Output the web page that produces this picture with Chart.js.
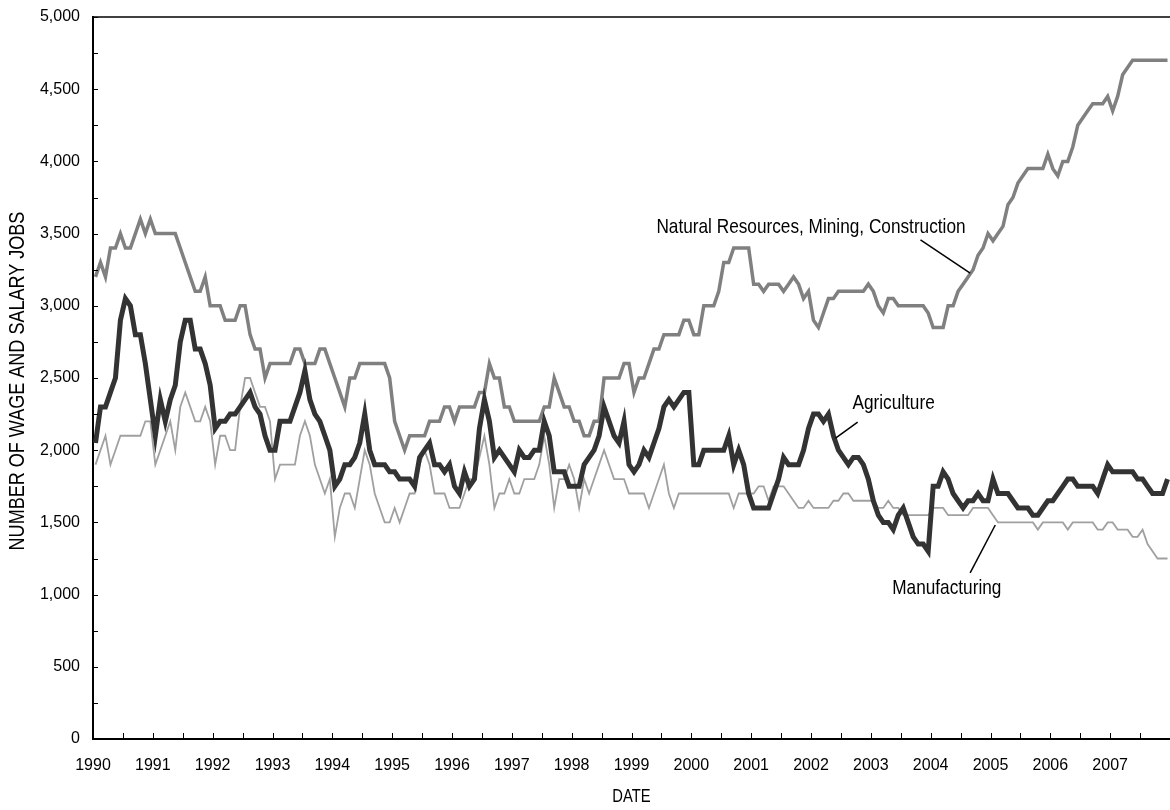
<!DOCTYPE html>
<html>
<head>
<meta charset="utf-8">
<title>Number of wage and salary jobs</title>
<script src="https://cdn.jsdelivr.net/npm/chart.js@4.4.1/dist/chart.umd.min.js"></script>
<style>
    html, body { margin: 0; padding: 0; background: #fff; }
</style>
</head>
<body>
<canvas id="myChart" width="1170" height="810"></canvas>
<script>
// canvas
const canvas = document.getElementById('myChart')
const ctx = canvas.getContext('2d')

// x axis: one label per year
const years = [1990, 1991, 1992, 1993, 1994, 1995, 1996, 1997, 1998,
    1999, 2000, 2001, 2002, 2003, 2004, 2005, 2006, 2007]

// y axis tick labels (every 500)
const yTickLabels = ['0', '500', '1,000', '1,500', '2,000', '2,500',
    '3,000', '3,500', '4,000', '4,500', '5,000']

// monthly values, one row per year
const naturalResources = [
    3200, 3300, 3200, 3400, 3400, 3500, 3400, 3400, 3500, 3600, 3500, 3600,
    3500, 3500, 3500, 3500, 3500, 3400, 3300, 3200, 3100, 3100, 3200, 3000,
    3000, 3000, 2900, 2900, 2900, 3000, 3000, 2800, 2700, 2700, 2500, 2600,
    2600, 2600, 2600, 2600, 2700, 2700, 2600, 2600, 2600, 2700, 2700, 2600,
    2500, 2400, 2300, 2500, 2500, 2600, 2600, 2600, 2600, 2600, 2600, 2500,
    2200, 2100, 2000, 2100, 2100, 2100, 2100, 2200, 2200, 2200, 2300, 2300,
    2200, 2300, 2300, 2300, 2300, 2400, 2400, 2600, 2500, 2500, 2300, 2300,
    2200, 2200, 2200, 2200, 2200, 2200, 2300, 2300, 2500, 2400, 2300, 2300,
    2200, 2200, 2100, 2100, 2200, 2200, 2500, 2500, 2500, 2500, 2600, 2600,
    2400, 2500, 2500, 2600, 2700, 2700, 2800, 2800, 2800, 2800, 2900, 2900,
    2800, 2800, 3000, 3000, 3000, 3100, 3300, 3300, 3400, 3400, 3400, 3400,
    3150, 3150, 3100, 3150, 3150, 3150, 3100, 3150, 3200, 3150, 3050, 3100,
    2900, 2850, 2950, 3050, 3050, 3100, 3100, 3100, 3100, 3100, 3100, 3150,
    3100, 3000, 2950, 3050, 3050, 3000, 3000, 3000, 3000, 3000, 3000, 2950,
    2850, 2850, 2850, 3000, 3000, 3100, 3150, 3200, 3250, 3350, 3400, 3500,
    3450, 3500, 3550, 3700, 3750, 3850, 3900, 3950, 3950, 3950, 3950, 4050,
    3950, 3900, 4000, 4000, 4100, 4250, 4300, 4350, 4400, 4400, 4400, 4450,
    4350, 4450, 4600, 4650, 4700, 4700, 4700, 4700, 4700, 4700, 4700, 4700
]

const agriculture = [
    2050, 2300, 2300, 2400, 2500, 2900, 3050, 3000, 2800, 2800, 2600, 2350,
    2100, 2350, 2200, 2350, 2450, 2750, 2900, 2900, 2700, 2700, 2600, 2450,
    2150, 2200, 2200, 2250, 2250, 2300, 2350, 2400, 2300, 2250, 2100, 2000,
    2000, 2200, 2200, 2200, 2300, 2400, 2550, 2350, 2250, 2200, 2100, 2000,
    1750, 1800, 1900, 1900, 1950, 2050, 2250, 2000, 1900, 1900, 1900, 1850,
    1850, 1800, 1800, 1800, 1750, 1950, 2000, 2050, 1900, 1900, 1850, 1900,
    1750, 1700, 1850, 1750, 1800, 2150, 2350, 2200, 1950, 2000, 1950, 1900,
    1850, 2000, 1950, 1950, 2000, 2000, 2200, 2100, 1850, 1850, 1850, 1750,
    1750, 1750, 1900, 1950, 2000, 2100, 2300, 2200, 2100, 2050, 2200, 1900,
    1850, 1900, 2000, 1950, 2050, 2150, 2300, 2350, 2300, 2350, 2400, 2400,
    1900, 1900, 2000, 2000, 2000, 2000, 2000, 2100, 1900, 2000, 1900, 1700,
    1600, 1600, 1600, 1600, 1700, 1800, 1950, 1900, 1900, 1900, 2000, 2150,
    2250, 2250, 2200, 2250, 2100, 2000, 1950, 1900, 1950, 1950, 1900, 1800,
    1650, 1550, 1500, 1500, 1450, 1550, 1600, 1500, 1400, 1350, 1350, 1300,
    1750, 1750, 1850, 1800, 1700, 1650, 1600, 1650, 1650, 1700, 1650, 1650,
    1800, 1700, 1700, 1700, 1650, 1600, 1600, 1600, 1550, 1550, 1600, 1650,
    1650, 1700, 1750, 1800, 1800, 1750, 1750, 1750, 1750, 1700, 1800, 1900,
    1850, 1850, 1850, 1850, 1850, 1800, 1800, 1750, 1700, 1700, 1700, 1800
]

const manufacturing = [
    1900, 2000, 2100, 1900, 2000, 2100, 2100, 2100, 2100, 2100, 2200, 2200,
    1900, 2000, 2100, 2200, 2000, 2300, 2400, 2300, 2200, 2200, 2300, 2200,
    1900, 2100, 2100, 2000, 2000, 2300, 2500, 2500, 2400, 2300, 2300, 2200,
    1800, 1900, 1900, 1900, 1900, 2100, 2200, 2100, 1900, 1800, 1700, 1800,
    1400, 1600, 1700, 1700, 1600, 1800, 2000, 1900, 1700, 1600, 1500, 1500,
    1600, 1500, 1600, 1700, 1700, 1900, 2000, 1900, 1700, 1700, 1700, 1600,
    1600, 1600, 1700, 1800, 1800, 1950, 2100, 1900, 1600, 1700, 1700, 1800,
    1700, 1700, 1800, 1800, 1800, 1900, 2100, 1900, 1600, 1800, 1800, 1900,
    1800, 1600, 1800, 1700, 1800, 1900, 2000, 1900, 1800, 1800, 1800, 1700,
    1700, 1700, 1700, 1600, 1700, 1800, 1900, 1700, 1600, 1700, 1700, 1700,
    1700, 1700, 1700, 1700, 1700, 1700, 1700, 1700, 1600, 1700, 1700, 1700,
    1700, 1750, 1750, 1650, 1750, 1750, 1750, 1700, 1650, 1600, 1600, 1650,
    1600, 1600, 1600, 1600, 1650, 1650, 1700, 1700, 1650, 1650, 1650, 1650,
    1650, 1600, 1600, 1650, 1600, 1600, 1550, 1550, 1550, 1550, 1550, 1550,
    1600, 1600, 1600, 1550, 1550, 1550, 1550, 1550, 1600, 1600, 1600, 1600,
    1550, 1500, 1500, 1500, 1500, 1500, 1500, 1500, 1500, 1450, 1500, 1500,
    1500, 1500, 1500, 1450, 1500, 1500, 1500, 1500, 1500, 1450, 1450, 1500,
    1500, 1450, 1450, 1450, 1400, 1400, 1450, 1350, 1300, 1250, 1250, 1250
]

// callout labels with leader lines, in data units (year, jobs)
const callouts = [
    { text: 'Natural Resources, Mining, Construction', at: [2002.0, 3545], from: [2003.83, 3456], to: [2004.66, 3227] },
    { text: 'Agriculture', at: [2003.38, 2327], from: [2002.78, 2195], to: [2002.41, 2084] },
    { text: 'Manufacturing', at: [2004.27, 1046], from: [2005.08, 1482], to: [2004.66, 1150] }
]

const fontFamily = "'Liberation Sans', Arial, sans-serif"

// monthly value -> point in the middle of its month
function toPoints(values) {
    let points = []
    for (let i = 0; i < values.length; i++) {
        points.push({ x: years[0] + (i + 0.5) / 12, y: values[i] })
    }
    return points
}

// narrow-looking text: squeeze the font along the text direction
function narrowText(c, text, x, y, size, angle) {
    c.save()
    c.translate(x, y)
    c.rotate(angle)
    c.scale(0.82, 1)
    c.font = size + 'px ' + fontFamily
    c.textAlign = 'center'
    c.textBaseline = 'middle'
    c.fillText(text, 0, 0)
    c.restore()
}

// ticks pointing into the plot, frame line on top, titles, callouts
const framePlugin = {
    id: 'frame',
    afterDatasetsDraw(chart) {
        const c = chart.ctx
        const area = chart.chartArea
        const xs = chart.scales.x
        const ys = chart.scales.y

        c.save()
        c.strokeStyle = '#000'
        c.lineWidth = 1.5
        c.beginPath()
        c.moveTo(area.left, area.top)
        c.lineTo(area.right, area.top)
        c.stroke()

        c.lineWidth = 1
        c.beginPath()
        xs.ticks.forEach(t => {
            const px = Math.round(xs.getPixelForValue(t.value)) + 0.5
            c.moveTo(px, area.bottom)
            c.lineTo(px, area.bottom - 6)
        })
        ys.ticks.forEach(t => {
            const py = Math.round(ys.getPixelForValue(t.value)) + 0.5
            c.moveTo(area.left, py)
            c.lineTo(area.left + 5, py)
        })
        c.stroke()

        // axis titles
        c.fillStyle = '#000'
        narrowText(c, 'NUMBER OF WAGE AND SALARY JOBS', 18, (area.top + area.bottom) / 2 + 3, 22, -Math.PI / 2)
        narrowText(c, 'DATE', (area.left + area.right) / 2, 797, 18, 0)

        // callouts
        c.lineWidth = 1.5
        callouts.forEach(item => {
            narrowText(c, item.text, xs.getPixelForValue(item.at[0]), ys.getPixelForValue(item.at[1]), 21, 0)
            c.beginPath()
            c.moveTo(xs.getPixelForValue(item.from[0]), ys.getPixelForValue(item.from[1]))
            c.lineTo(xs.getPixelForValue(item.to[0]), ys.getPixelForValue(item.to[1]))
            c.stroke()
        })
        c.restore()
    }
}

const data = {
    datasets: [
        {
            label: 'Agriculture',
            data: toPoints(agriculture),
            borderColor: '#333333',
            borderWidth: 5,
            order: 0
        },
        {
            label: 'Natural Resources, Mining, Construction',
            data: toPoints(naturalResources),
            borderColor: '#808080',
            borderWidth: 3.5,
            order: 1
        },
        {
            label: 'Manufacturing',
            data: toPoints(manufacturing),
            borderColor: '#a0a0a0',
            borderWidth: 1.8,
            order: 2
        }
    ]
}

const myLineChart = new Chart(ctx, {
    type: 'line',
    data: data,
    plugins: [framePlugin],
    options: {
        responsive: false,
        animation: false,
        devicePixelRatio: 1,
        layout: { padding: { top: 17, right: 0, left: 0, bottom: 0 } },
        elements: {
            point: { radius: 0 },
            line: { tension: 0, fill: false }
        },
        plugins: {
            legend: { display: false },
            tooltip: { enabled: false }
        },
        scales: {
            x: {
                type: 'linear',
                min: 1990,
                max: 2008,
                afterBuildTicks: scale => {
                    let ticks = []
                    years.forEach(y => {
                        ticks.push({ value: y })
                        ticks.push({ value: y + 0.5 })
                    })
                    scale.ticks = ticks
                },
                afterFit: scale => {
                    scale.height = 71
                    scale.paddingRight = 0
                },
                grid: { display: false, drawTicks: false },
                border: { display: true, color: '#000', width: 2 },
                ticks: {
                    autoSkip: false,
                    maxRotation: 0,
                    padding: 17,
                    color: '#000',
                    font: { family: fontFamily, size: 16 },
                    callback: v => (years.indexOf(v) >= 0 ? String(v) : '')
                }
            },
            y: {
                min: 0,
                max: 5000,
                afterFit: scale => {
                    scale.width = 93
                    scale.paddingTop = 0
                },
                grid: { display: false, drawTicks: false },
                border: { display: true, color: '#000', width: 2 },
                ticks: {
                    stepSize: 250,
                    autoSkip: false,
                    padding: 13,
                    color: '#000',
                    font: { family: fontFamily, size: 16 },
                    callback: v => (v % 500 === 0 ? yTickLabels[v / 500] : '')
                }
            }
        }
    }
})
</script>
</body>
</html>
